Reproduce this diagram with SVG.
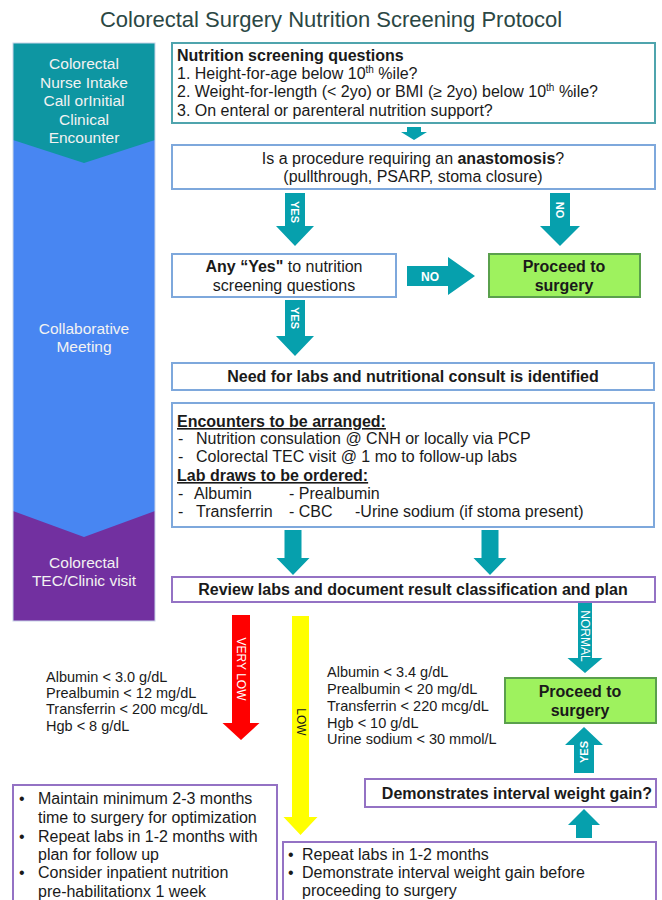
<svg xmlns="http://www.w3.org/2000/svg" width="662" height="900" viewBox="0 0 662 900">
<defs>
<style>
text{font-family:"Liberation Sans",Arial,sans-serif;fill:#1a1a1a;}
.title{font-size:22px;fill:#2b4744;}
.lane{font-size:15.5px;fill:#f2f2f2;text-anchor:middle;}
.t{font-size:16px;}
.c{text-anchor:middle;}
.b{font-weight:bold;}
.bb{fill:#fff;stroke:#7ea8dc;stroke-width:2;}
.tb{fill:#fff;stroke:#4fa4ad;stroke-width:2;}
.pb{fill:#fff;stroke:#9472c4;stroke-width:2;}
.gb{fill:#9ef25e;stroke:#5aa04c;stroke-width:2;}
.arr{fill:#06a0ad;}
.al{font-size:11px;font-weight:bold;fill:#fff;text-anchor:middle;dominant-baseline:central;}
.lab{font-size:14.5px;}
.bl{font-size:16px;}
</style>
</defs>
<rect width="662" height="900" fill="#fff"/>
<text class="title" x="331" y="27" text-anchor="middle">Colorectal Surgery Nutrition Screening Protocol</text>

<g id="lanes">
<rect x="13" y="43" width="142" height="578" fill="#4886f2"/>
<polygon points="13,511 84,537 155,511 155,621 13,621" fill="#7230a0"/>
<polygon points="13,43 155,43 155,140 84,163 13,140" fill="#0e96a2"/>
<rect x="13" y="43" width="142" height="578" fill="none" stroke="#c8d4e8" stroke-width="1"/>
<g id="lane-intake"><text class="lane" x="84" y="69">Colorectal</text><text class="lane" x="84" y="88">Nurse Intake</text><text class="lane" x="84" y="106">Call orInitial</text><text class="lane" x="84" y="125">Clinical</text><text class="lane" x="84" y="143">Encounter</text></g>
<g id="lane-meeting"><text class="lane" x="84" y="334">Collaborative</text><text class="lane" x="84" y="352">Meeting</text></g>
<g id="lane-tec"><text class="lane" x="84" y="568">Colorectal</text><text class="lane" x="84" y="586">TEC/Clinic visit</text></g>
</g>

<g id="connectors">
<polygon class="arr" points="407,127 421,127 421,132 427,132 414,140 401,132 407,132"/>
<polygon class="arr" points="285,193 305,193 305,226 314,226 295,246 276,226 285,226"/>
<polygon class="arr" points="550,193 570,193 570,226 580,226 560,246 540,226 550,226"/>
<polygon class="arr" points="407,266 448,266 448,257 475,276 448,295 448,286 407,286"/>
<polygon class="arr" points="285,300 305,300 305,336 314,336 295,356 276,336 285,336"/>
<polygon class="arr" points="284.5,530 301.5,530 301.5,558 309.5,558 293,575 276.5,558 284.5,558"/>
<polygon class="arr" points="481.5,530 498.5,530 498.5,558 506.5,558 490,575 473.5,558 481.5,558"/>
<polygon fill="#ff0000" points="232,615 250,615 250,723 259.5,723 241,740 222.5,723 232,723"/>
<polygon fill="#ffff00" points="292,616 309,616 309,817 317.5,817 300.5,835 283.5,817 292,817"/>
<polygon class="arr" points="578,603 592,603 592,658 602.5,658 585,673 567.5,658 578,658"/>
<polygon class="arr" points="574,773 594,773 594,745 603,745 584,727 565,745 574,745"/>
<polygon class="arr" points="576,838 592,838 592,825 600,825 584,809 568,825 576,825"/>
<text class="al" transform="translate(295,212) rotate(90)">YES</text>
<text class="al" transform="translate(560,210) rotate(90)">NO</text>
<text class="al" x="430" y="277" style="font-size:12px">NO</text>
<text class="al" transform="translate(295,318) rotate(90)">YES</text>
<text class="al" transform="translate(241,669) rotate(90)" style="font-weight:normal;font-size:12px">VERY LOW</text>
<text class="al" transform="translate(301,722) rotate(90)" style="font-weight:normal;font-size:12px;fill:#1a1a1a">LOW</text>
<text class="al" transform="translate(585,636) rotate(90)" style="font-weight:normal;font-size:12px">NORMAL</text>
<text class="al" transform="translate(584,752) rotate(-90)">YES</text>
</g>

<g id="screening">
<rect class="tb" x="172" y="43" width="483" height="80"/>
<text class="t b" x="177" y="61">Nutrition screening questions</text>
<text class="t" x="177" y="79">1. Height-for-age below 10<tspan font-size="10" dy="-6">th</tspan><tspan dy="6"> %ile?</tspan></text>
<text class="t" x="177" y="97">2. Weight-for-length (&lt; 2yo) or BMI (≥ 2yo) below 10<tspan font-size="10" dy="-6">th</tspan><tspan dy="6"> %ile?</tspan></text>
<text class="t" x="177" y="116">3. On enteral or parenteral nutrition support?</text>
</g>

<g id="anastomosis">
<rect class="bb" x="172" y="145" width="483" height="44"/>
<text class="t c" x="413" y="164">Is a procedure requiring an <tspan class="b">anastomosis</tspan>?</text>
<text class="t c" x="413" y="182">(pullthrough, PSARP, stoma closure)</text>
</g>

<g id="any-yes">
<rect class="bb" x="172" y="254" width="224" height="43"/>
<text class="t c" x="284" y="272"><tspan class="b">Any “Yes"</tspan> to nutrition</text>
<text class="t c" x="284" y="291">screening questions</text>
</g>

<g id="proceed1">
<rect class="gb" x="489" y="254" width="151" height="43"/>
<text class="t c b" x="564" y="272">Proceed to</text>
<text class="t c b" x="564" y="291">surgery</text>
</g>

<g id="need-labs">
<rect class="bb" x="172" y="363" width="482" height="27"/>
<text class="t c b" x="413" y="382">Need for labs and nutritional consult is identified</text>
</g>

<g id="encounters">
<rect class="bb" x="172" y="403" width="482" height="124"/>
<text class="t b" x="177" y="427" text-decoration="underline">Encounters to be arranged:</text>
<text class="t" x="178" y="444">-</text><text class="t" x="196" y="444">Nutrition consulation @ CNH or locally via PCP</text>
<text class="t" x="178" y="462">-</text><text class="t" x="196" y="462">Colorectal TEC visit @ 1 mo to follow-up labs</text>
<text class="t b" x="177" y="481" text-decoration="underline">Lab draws to be ordered: </text>
<text class="t" x="178" y="499">-</text><text class="t" x="194" y="499">Albumin</text><text class="t" x="289" y="499">- Prealbumin</text>
<text class="t" x="178" y="517">-</text><text class="t" x="196" y="517">Transferrin</text><text class="t" x="289" y="517">- CBC</text><text class="t" x="355" y="517">-Urine sodium (if stoma present)</text>
</g>

<g id="review">
<rect class="pb" x="172" y="577" width="483" height="25"/>
<text class="t c b" x="413" y="595">Review labs and document result classification and plan</text>
</g>

<g id="verylow-labs">
<text class="lab" x="46" y="682">Albumin &lt; 3.0 g/dL</text>
<text class="lab" x="46" y="698">Prealbumin &lt; 12 mg/dL</text>
<text class="lab" x="46" y="714">Transferrin &lt; 200 mcg/dL</text>
<text class="lab" x="46" y="731">Hgb &lt; 8 g/dL</text>
</g>

<g id="low-labs">
<text class="lab" x="327" y="677">Albumin &lt; 3.4 g/dL</text>
<text class="lab" x="327" y="694">Prealbumin &lt; 20 mg/dL</text>
<text class="lab" x="327" y="711">Transferrin &lt; 220 mcg/dL</text>
<text class="lab" x="327" y="728">Hgb &lt; 10 g/dL</text>
<text class="lab" x="327" y="744">Urine sodium &lt; 30 mmol/L</text>
</g>

<g id="proceed2">
<rect class="gb" x="505" y="678" width="151" height="45"/>
<text class="t c b" x="580" y="697">Proceed to</text>
<text class="t c b" x="580" y="716">surgery</text>
</g>

<g id="weight-gain">
<rect class="pb" x="365" y="779" width="291" height="28"/>
<text class="t c b" x="517" y="799">Demonstrates interval weight gain?</text>
</g>

<g id="verylow-plan">
<rect class="pb" x="13" y="785" width="264" height="130"/>
<text class="bl" x="19" y="804">•</text><text class="bl" x="38" y="804">Maintain minimum 2-3 months</text>
<text class="bl" x="38" y="823">time to surgery for optimization</text>
<text class="bl" x="19" y="842">•</text><text class="bl" x="38" y="842">Repeat labs in 1-2 months with</text>
<text class="bl" x="38" y="860">plan for follow up</text>
<text class="bl" x="19" y="878">•</text><text class="bl" x="38" y="878">Consider inpatient nutrition</text>
<text class="bl" x="38" y="897">pre-habilitationx 1 week</text>
</g>

<g id="low-plan">
<rect class="pb" x="283" y="842" width="373" height="80"/>
<text class="t" x="288" y="860">•</text><text class="t" x="302" y="860">Repeat labs in 1-2 months</text>
<text class="t" x="288" y="878">•</text><text class="t" x="302" y="878">Demonstrate interval weight gain before</text>
<text class="t" x="302" y="896">proceeding to surgery</text>
</g>
</svg>
